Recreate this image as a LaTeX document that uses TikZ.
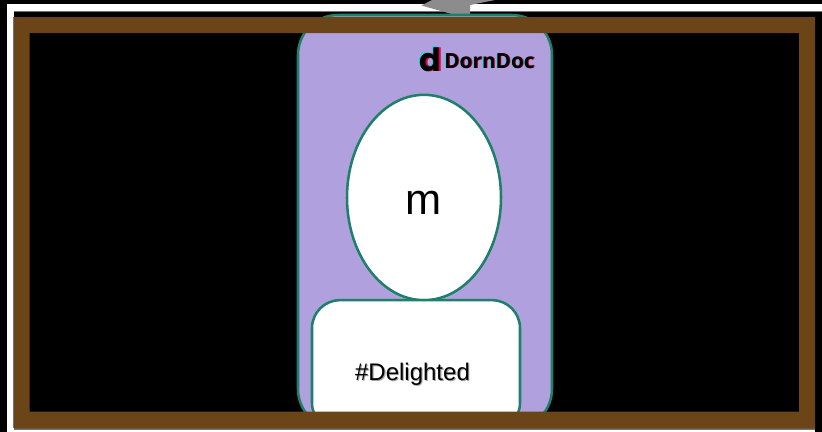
\documentclass[tikz,border=0pt]{standalone}
\usepackage{fontspec}
\setmainfont{Liberation Sans}
\newfontfamily\logofont{Open Sans}
\newfontfamily\logodfont{Poppins}
\usetikzlibrary{shapes.geometric,calc}
\definecolor{tealline}{HTML}{1F8069}
\definecolor{lilac}{HTML}{B0A0DE}
\definecolor{framebrown}{HTML}{6B4518}
\definecolor{arrowgray}{HTML}{8C8C8C}
\definecolor{logocyan}{HTML}{20D5DC}
\definecolor{logored}{HTML}{E8004F}
\tikzset{
  x=0.75pt,y=-0.75pt,
  panel/.style={draw=tealline,line width=1.9pt,inner sep=0pt,outer sep=0pt},
  lbl/.style={inner sep=0pt,outer sep=0pt,text=black},
  sh/.style={inner sep=0pt,outer sep=0pt,text=black!35},
}
\begin{document}
\begin{tikzpicture}
\useasboundingbox (0,0) rectangle (822,432);
\fill[black] (0,0) rectangle (822,432);
% white backing band
\fill[white] (7,3.5) rectangle (822,11);
\fill[white] (7,3.5) rectangle (14,432);
\fill[black!55] (13,17) rectangle (14,428);
\fill[black!55] (14,11) rectangle (822,12);
% gray arrow
\fill[arrowgray] (421.5,5.5) -- (432,0) -- (495,0) -- (470,5) -- (470,15) -- (455,15) -- cycle;
% phone body
\node[panel,fill=lilac,rounded corners=30pt,minimum width=190.5pt,minimum height=310.5pt] (body) at (425,222) {};
% face
\node[panel,ellipse,fill=white,minimum width=115.5pt,minimum height=154pt] (face) at (424,197.5) {};
\node[lbl,font=\fontsize{32.5}{32.5}\selectfont,anchor=base] (mlabel) at (424,214) {m};
% tag box
\node[panel,fill=white,rounded corners=21pt,minimum width=156pt,minimum height=98pt] (tag) at (416,365.5) {};
\node[sh,font=\fontsize{18}{18}\selectfont,anchor=base] (tagshadow) at (413.6,381.4) {\#Delighted};
\node[lbl,font=\fontsize{18}{18}\selectfont,anchor=base] (taglabel) at (412.5,380) {\#Delighted};
% logo
\foreach \dx/\dy/\c/\n in {-1.4/-0.8/logocyan/a,1.4/0.8/logored/b,0/0/black/c}{
  \node[inner sep=0pt,outer sep=0pt,text=\c,anchor=base,font=\logodfont\bfseries\fontsize{24}{24}\selectfont] (logod\n) at ({430.5+\dx},{71+\dy}) {d};
}
\foreach \dx/\c/\n in {-0.8/logocyan/a,0.8/logored/b,0/black/c}{
  \node[inner sep=0pt,outer sep=0pt,text=\c,anchor=base,font=\logofont\bfseries\fontsize{15.6}{15.6}\selectfont] (logot\n) at ({489.5+\dx},68) {DornDoc};
}
% bottom strips over the overflow
\fill[white] (7,429.5) rectangle (822,432);
\fill[black!55] (14,428) rectangle (815,429.5);
\fill[black] (815,428) rectangle (822,432);
% wooden frame
\fill[framebrown,even odd rule] (14,17) rectangle (815,428.5) (29.5,33) rectangle (799,411.5);
\end{tikzpicture}
\end{document}
